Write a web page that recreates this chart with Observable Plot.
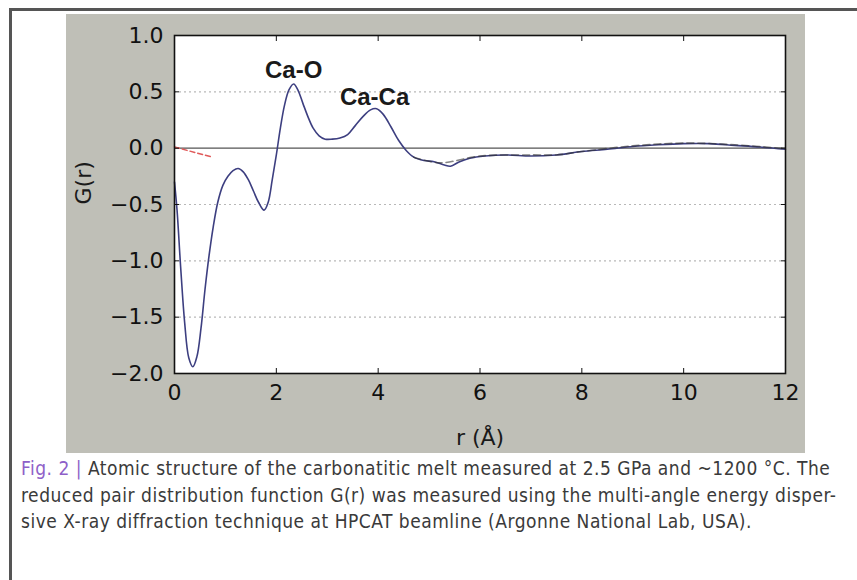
<!DOCTYPE html>
<html><head><meta charset="utf-8">
<script src="https://cdn.jsdelivr.net/npm/d3@7"></script>
<script src="https://cdn.jsdelivr.net/npm/@observablehq/plot@0.6"></script>
<style>
body{margin:0;background:#fff;width:857px;height:580px;overflow:hidden;position:relative;}
#frame{position:absolute;left:9px;top:8px;width:900px;height:620px;border-left:3px solid #555;border-top:3px solid #555;}
#panel{position:absolute;left:66px;top:14px;width:739px;height:439px;background:#bfbfb7;}
#panel svg{display:block;}
#caption{position:absolute;left:21px;top:455px;width:830px;font-family:"DejaVu Sans Condensed","Liberation Sans Narrow","Roboto",sans-serif;font-size:19px;letter-spacing:0.5px;line-height:26.5px;color:#3a3a3a;white-space:nowrap;}
#caption .fig{color:#8e5fc8;}
</style></head>
<body>
<div id="frame"></div>
<div id="panel"></div>
<div id="caption"><span class="fig">Fig. 2 |</span> Atomic structure of the carbonatitic melt measured at 2.5 GPa and ~1200 °C. The<br>reduced pair distribution function G(r) was measured using the multi-angle energy disper-<br>sive X-ray diffraction technique at HPCAT beamline (Argonne National Lab, USA).</div>
<script>
// measured G(r)
const rVals = [0.00,0.05,0.12,0.20,0.28,0.36,0.44,0.52,0.60,0.68,0.76,0.85,0.95,1.05,1.15,1.25,1.35,1.45,1.55,1.65,1.76,1.84,1.92,2.00,2.08,2.16,2.25,2.34,2.42,2.52,2.62,2.72,2.84,2.96,3.10,3.25,3.40,3.55,3.70,3.85,3.97,4.10,4.25,4.40,4.55,4.70,4.90,5.10,5.30,5.42,5.60,5.80,6.10,6.50,7.00,7.50,8.00,8.50,9.00,9.50,10.00,10.50,11.00,11.50,12.00];
const gVals = [-0.30,-0.55,-1.05,-1.55,-1.86,-1.94,-1.85,-1.60,-1.25,-0.95,-0.70,-0.48,-0.33,-0.25,-0.20,-0.18,-0.21,-0.28,-0.38,-0.48,-0.55,-0.48,-0.28,-0.06,0.18,0.38,0.52,0.57,0.52,0.40,0.28,0.18,0.11,0.08,0.08,0.09,0.12,0.20,0.28,0.34,0.35,0.30,0.19,0.07,-0.02,-0.08,-0.11,-0.12,-0.15,-0.16,-0.12,-0.09,-0.07,-0.06,-0.07,-0.06,-0.03,-0.01,0.015,0.03,0.04,0.04,0.025,0.01,-0.01];
// dashed overlay at large r
const fitR = [4.70,5.20,6.00,7.00,7.50,8.00,9.00,10.00,11.00,12.00];
const fitG = [-0.08,-0.13,-0.07,-0.06,-0.06,-0.03,0.02,0.045,0.03,-0.005];
// red dashed low-r line
const lowR = [0.00,0.75];
const lowG = [0.01,-0.08];
// annotations
const annoText = ["Ca-O","Ca-Ca"];
const annoR = [2.34,3.93];
const annoG = [0.69,0.45];
// ticks
const xTicks = [0,2,4,6,8,10,12];
const yTicks = [-2.0,-1.5,-1.0,-0.5,0.0,0.5,1.0];
const gridYVals = [0.5,-0.5,-1.0,-1.5];

const data = rVals.map((r,i)=>({r, g:gVals[i]}));
const fit = fitR.map((r,i)=>({r, g:fitG[i]}));
const low = lowR.map((r,i)=>({r, g:lowG[i]}));
const anno = annoText.map((t,i)=>({t, r:annoR[i], g:annoG[i]}));
const fmt = d3.format(".1f");
const tickFont = "DejaVu Sans, sans-serif";

const chart = Plot.plot({
  width: 739, height: 439,
  marginLeft: 108, marginTop: 21, marginRight: 20, marginBottom: 80,
  style: {background: "transparent", fontFamily: tickFont, color: "#111"},
  x: {domain: [0,12]},
  y: {domain: [-2,1]},
  marks: [
    Plot.frame({fill: "white", stroke: null}),
    Plot.gridY(gridYVals, {stroke: "#9a9a9a", strokeOpacity: 0.7, strokeDasharray: "2,3", strokeWidth: 1.2}),
    Plot.ruleY([0], {stroke: "#555", strokeWidth: 1.3}),
    Plot.line(low, {x: "r", y: "g", stroke: "#e05a5a", strokeWidth: 1.5, strokeDasharray: "5,3"}),
    Plot.line(data, {x: "r", y: "g", stroke: "#3d3f80", strokeWidth: 1.6, curve: "catmull-rom"}),
    Plot.line(fit, {x: "r", y: "g", stroke: "#333", strokeOpacity: 0.6, strokeWidth: 1.6, strokeDasharray: "7,4", curve: "catmull-rom"}),
    Plot.text(anno, {x: "r", y: "g", text: "t", fontSize: 24, fontWeight: "bold", fontFamily: "Liberation Sans, Arial, sans-serif", fill: "#1a1a1a"}),
    Plot.frame({stroke: "#111", strokeWidth: 1.6}),
    Plot.axisX(xTicks, {anchor: "bottom", tickSize: -5, tickPadding: 16, tickFormat: d => String(d), fontSize: 22, label: null}),
    Plot.axisX(xTicks, {anchor: "top", tickSize: -5, fill: "none", label: null}),
    Plot.axisY(yTicks, {anchor: "left", tickSize: -5, tickPadding: 16, tickFormat: fmt, fontSize: 22, label: null}),
    Plot.axisY(yTicks, {anchor: "right", tickSize: -5, fill: "none", label: null}),
    Plot.text(["r (Å)"], {frameAnchor: "bottom", dy: 71, fontSize: 22, fill: "#1a1a1a"}),
    Plot.text(["G(r)"], {frameAnchor: "left", dx: -91, rotate: -90, fontSize: 22, fill: "#1a1a1a"})
  ]
});
document.getElementById("panel").appendChild(chart);
</script>
</body></html>
